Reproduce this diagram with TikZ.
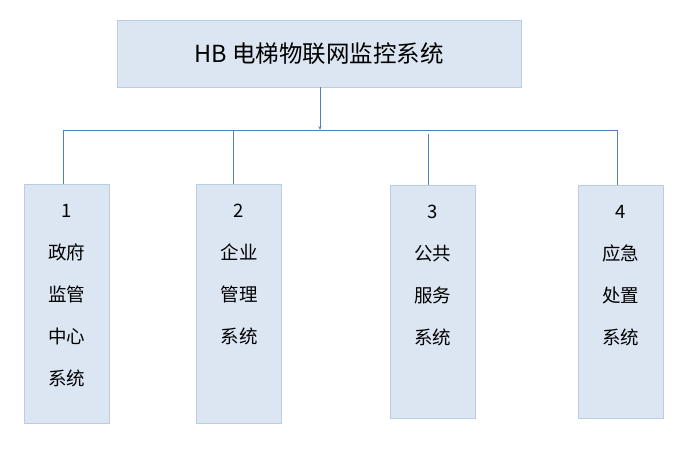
\documentclass[tikz,border=0pt]{standalone}
\usepackage{fontspec}
\setmainfont{Noto Sans CJK SC}
\usetikzlibrary{arrows.meta}
\definecolor{boxfill}{HTML}{DCE6F2}
\definecolor{boxline}{HTML}{B9CDE5}
\definecolor{linkcol}{HTML}{4F81BD}
\tikzset{
  titlebox/.style={draw=boxline, fill=boxfill, line width=0.8bp, minimum width=404bp, minimum height=67bp, inner sep=0pt, font=\fontsize{23.5bp}{28bp}\selectfont},
  subbox/.style={draw=boxline, fill=boxfill, line width=0.8bp, minimum width=85bp, inner sep=0pt, anchor=north},
  subtext/.style={anchor=north, align=center, inner sep=0pt, font=\fontsize{18.5bp}{42bp}\selectfont},
  link/.style={draw=linkcol, line width=0.9bp},
}
\begin{document}
\begin{tikzpicture}[x=1bp, y=-1bp]
\useasboundingbox (0,0) rectangle (689,450);
\fill[white] (0,0) rectangle (689,450);
\node[titlebox] (top) at (319,53.5) {HB 电梯物联网监控系统};
\node[subbox, minimum height=239bp] (b1) at (66.5,184) {};
\node[subbox, minimum height=239bp] (b2) at (239,184) {};
\node[subbox, minimum height=233bp] (b3) at (432.5,185) {};
\node[subbox, minimum height=233bp] (b4) at (620.5,185) {};
\node[subtext] (t1) at ([yshift=-20bp]b1.north) {1\\政府\\监管\\中心\\系统};
\node[subtext] (t2) at ([yshift=-20bp]b2.north) {2\\企业\\管理\\系统};
\node[subtext] (t3) at ([yshift=-20bp]b3.north) {3\\公共\\服务\\系统};
\node[subtext] (t4) at ([yshift=-20bp]b4.north) {4\\应急\\处置\\系统};
\coordinate (hub) at (320,130);
\coordinate (hl) at (63,130);
\coordinate (hr) at (617,130);
\draw[link, -{Stealth[length=4bp,width=3bp]}] (top.south -| hub) -- (hub);
\draw[link] (hl) -- (hr);
\draw[link] (hl) -- (hl |- b1.north);
\draw[link] (233,130) -- (233,184);
\draw[link] (428,134) -- (428,185);
\draw[link] (hr) -- (hr |- b4.north);
\end{tikzpicture}
\end{document}
